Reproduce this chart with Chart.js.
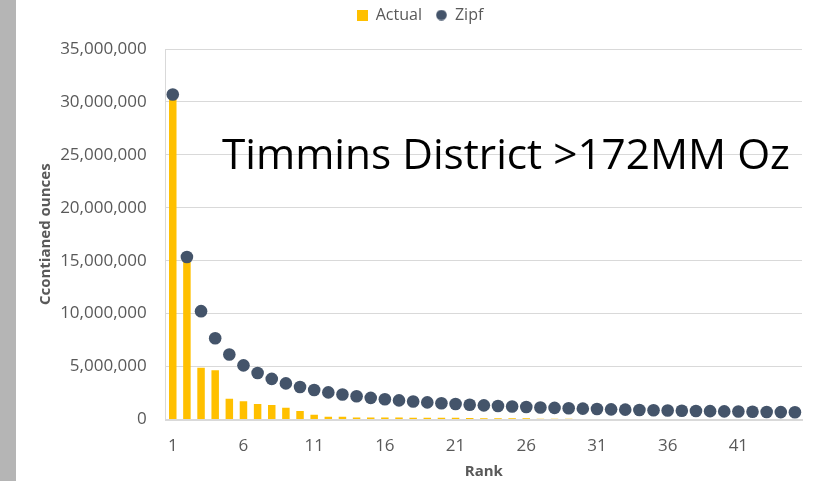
<!DOCTYPE html>
<html>
<head>
<meta charset="utf-8">
<script src="https://cdn.jsdelivr.net/npm/chart.js@4"></script>
<style>
html,body{margin:0;padding:0;background:#fff;overflow:hidden}
#wrap{position:relative;width:815px;height:481px}
#strip{position:absolute;left:0;top:0;width:16px;height:481px;background:#b5b5b5}
canvas{position:absolute;left:0;top:0}
</style>
</head>
<body>
<div id="wrap"><div id="strip"></div><canvas id="c" width="815" height="481"></canvas></div>
<script>
const ranks = ['1','2','3','4','5','6','7','8','9','10','11','12','13','14','15','16','17','18','19','20','21','22','23','24','25','26','27','28','29','30','31','32','33','34','35','36','37','38','39','40','41','42','43','44','45'];
const shownRankTicks = ['1','6','11','16','21','26','31','36','41'];
const actual = [30500000,15100000,4900000,4650000,1950000,1720000,1470000,1380000,1100000,800000,
  450000,270000,250000,200000,190000,180000,180000,170000,170000,160000,
  160000,150000,120000,120000,120000,110000,60000,60000,60000,50000,
  50000,50000,40000,40000,0,0,0,0,0,0,
  0,0,0,0,0];
const zipf = [30700000,15350000,10233333,7675000,6140000,5116667,4385714,3837500,3411111,3070000,
  2790909,2558333,2361538,2192857,2046667,1918750,1805882,1705556,1615789,1535000,
  1461905,1395455,1334783,1279167,1228000,1180769,1137037,1096429,1058621,1023333,
  990323,959375,930303,902941,877143,852778,829730,807895,787179,767500,
  748780,730952,713953,697727,682222];
const yMax = 35000000;
const yStep = 5000000;
const annotationText = 'Timmins District >172MM Oz';

Chart.defaults.font.family = "'Open Sans', sans-serif";

function legendIcon(kind, color){
  const c = document.createElement('canvas');
  c.width = 11; c.height = 11;
  const x = c.getContext('2d');
  x.fillStyle = color;
  if (kind === 'rect') x.fillRect(0,0,11,11);
  else { x.beginPath(); x.arc(5.5,5.5,5.3,0,Math.PI*2); x.fill(); }
  return c;
}
const icons = [legendIcon('rect','#FFC000'), legendIcon('circle','#44546A')];

const layoutPlugin = {
  id: 'layoutTweaks',
  afterInit(chart){
    const lg = chart.legend;
    if (lg && !lg._patched){
      const fit = lg.fit;
      lg.fit = function(){ fit.call(this); this.height = 49; };
      const draw = lg.draw;
      lg.draw = function(){ const ctx = this.ctx; ctx.save(); ctx.translate(0,-7); draw.call(this); ctx.restore(); };
      lg._patched = true;
    }
  },
  afterDraw(chart){
    const ctx = chart.ctx;
    ctx.save();
    ctx.font = "40px 'Open Sans'";
    const w = ctx.measureText(annotationText).width;
    const size = 40 * 568 / w;
    ctx.font = size + "px 'Open Sans'";
    ctx.fillStyle = '#000000';
    ctx.textBaseline = 'alphabetic';
    ctx.textAlign = 'left';
    ctx.fillText(annotationText, 222, 169);
    ctx.restore();
  }
};

new Chart(document.getElementById('c'), {
  data: {
    labels: ranks,
    datasets: [
      { type: 'bar', label: 'Actual', data: actual, backgroundColor: '#FFC000', borderWidth: 0,
        barPercentage: 0.53, categoryPercentage: 1.0, order: 1 },
      { type: 'line', label: 'Zipf', data: zipf, showLine: false, pointRadius: 6.3, pointHoverRadius: 6.3,
        pointBackgroundColor: '#44546A', pointBorderColor: '#44546A', pointBorderWidth: 0,
        backgroundColor: '#44546A', borderColor: '#44546A', order: 0 }
    ]
  },
  options: {
    responsive: false,
    animation: false,
    layout: { padding: { top: 0, left: 38, right: 13, bottom: 0 } },
    plugins: {
      tooltip: { enabled: false },
      legend: {
        position: 'top',
        labels: {
          usePointStyle: true,
          boxWidth: 11, boxHeight: 11,
          padding: 14,
          color: '#595959',
          font: { size: 16 },
          sort: (a,b) => a.datasetIndex - b.datasetIndex,
          generateLabels(chart){
            const items = Chart.defaults.plugins.legend.labels.generateLabels(chart);
            items.forEach(it => { it.pointStyle = icons[it.datasetIndex]; });
            return items;
          }
        }
      }
    },
    scales: {
      x: {
        type: 'category',
        grid: { display: false, drawTicks: false },
        border: { display: true, color: '#d9d9d9', width: 2 },
        ticks: {
          autoSkip: false, maxRotation: 0, color: '#595959', font: { size: 17 }, padding: 16,
          callback: function(v, i){ const l = this.getLabelForValue(v); return shownRankTicks.includes(l) ? l : ''; }
        },
        title: { display: true, text: 'Rank', color: '#595959', font: { size: 15, weight: 'bold' }, padding: { top: 0, bottom: 0 } },
        afterFit(scale){ scale.height = 61.5; }
      },
      y: {
        min: 0, max: yMax,
        grid: { color: '#d9d9d9', lineWidth: 1, drawTicks: false },
        border: { display: true, color: '#d9d9d9', width: 1 },
        ticks: { stepSize: yStep, color: '#595959', font: { size: 17 }, padding: 19,
          callback: v => Number(v).toLocaleString('en-US') },
        title: { display: true, text: 'Ccontianed ounces', color: '#595959', font: { size: 15, weight: 'bold' }, padding: { top: -1, bottom: 0 } },
        afterFit(scale){ scale.width = 127.7; }
      }
    }
  },
  plugins: [layoutPlugin]
});
</script>
</body>
</html>
